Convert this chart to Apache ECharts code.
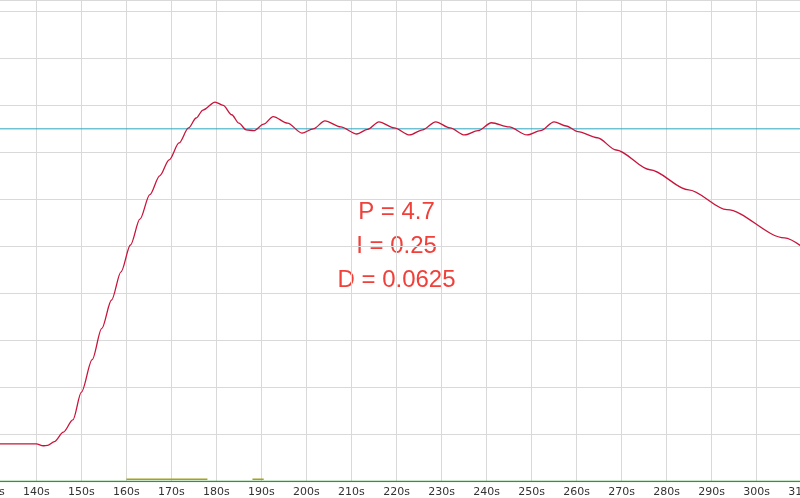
<!DOCTYPE html>
<html><head><meta charset="utf-8">
<script src="https://cdn.jsdelivr.net/npm/echarts@6/dist/echarts.min.js"></script>
<style>html,body{margin:0;padding:0;background:#fff;overflow:hidden;width:800px;height:498px}#c{width:842.6px;height:498px;margin-left:-24.8px}</style>
</head><body><div id="c"></div>
<script>
// time (s) and process value
const times = [131, 136, 140, 141.5, 142.5, 144, 146, 148.1, 150, 152.4, 154.5, 156.7, 158.8, 160.9, 163, 165.2, 167.4, 169.5, 171.7, 173.8, 175.5, 177, 179.7, 181.5, 183.4, 185, 186.6, 188.3, 190.5, 192.6, 195.8, 199, 201.5, 204.1, 207.6, 211.2, 213.6, 216.1, 219.5, 222.9, 225.8, 228.7, 231.9, 235.1, 238.1, 241.1, 245, 249, 252, 255, 257.7, 260.3, 264.6, 268.8, 276.3, 284.9, 293.4, 306.2, 310];
const values = [-2, -2, -2, -2.4, -2.3, -1.5, 0.5, 3.1, 9, 15.9, 22.5, 28.6, 34.6, 40.3, 45.8, 51, 55, 58.4, 62, 65.2, 67.3, 69, 70.7, 70, 68, 66.2, 64.8, 64.6, 66, 67.6, 66.2, 64.1, 65, 66.7, 65.4, 63.9, 64.9, 66.5, 65.2, 63.7, 64.8, 66.5, 65.2, 63.7, 64.6, 66.3, 65.4, 63.7, 64.6, 66.5, 65.6, 64.4, 63.1, 60.5, 56.3, 52, 47.8, 41.8, 40];
const setpoint = 65;
const outTimes = [160, 178];
const outTimes2 = [188, 190.5];
const pidText = ['P = 4.7', 'I = 0.25', 'D = 0.0625'];

const chart = echarts.init(document.getElementById('c'));
chart.setOption({
  animation: false,
  backgroundColor: '#fff',
  grid: { left: 0, right: 0, top: 0, bottom: 16.5 },
  xAxis: {
    type: 'value', min: 130, max: 310, interval: 10,
    axisLine: { show: false }, axisTick: { show: false },
    axisLabel: { formatter: v => v + 's', color: '#333', fontSize: 11, fontFamily: 'DejaVu Sans', margin: 5 },
    splitLine: { lineStyle: { color: '#d9d9d9' } }
  },
  yAxis: {
    type: 'value', min: -10, max: 92.4, interval: 10,
    axisLine: { show: false }, axisTick: { show: false }, axisLabel: { show: false },
    splitLine: { lineStyle: { color: '#d9d9d9' } }
  },
  series: [
    { type: 'line', data: [[130, setpoint], [310, setpoint]], symbol: 'none',
      lineStyle: { color: '#2aa7c0', width: 1 } },
    { type: 'line', data: [[130, -10], [310, -10]], symbol: 'none',
      lineStyle: { color: '#2a9a2a', width: 1.5 } },
    { type: 'line', data: outTimes.map(t => [t, -9.5]), symbol: 'none',
      lineStyle: { color: '#a8a020', width: 1.5 } },
    { type: 'line', data: outTimes2.map(t => [t, -9.5]), symbol: 'none',
      lineStyle: { color: '#a8a020', width: 1.5 } },
    { type: 'line', data: times.map((t, i) => [t, values[i]]), symbol: 'none', smooth: 0.3, smoothMonotone: 'x',
      lineStyle: { color: '#c8143a', width: 1.3 } }
  ],
  graphic: pidText.map((s, i) => ({
    type: 'text', left: 'center', top: 200 + i * 34,
    style: { text: s, fill: '#f0403a', font: '24px "Liberation Sans", Arial', textAlign: 'center' }
  }))
});
</script></body></html>
